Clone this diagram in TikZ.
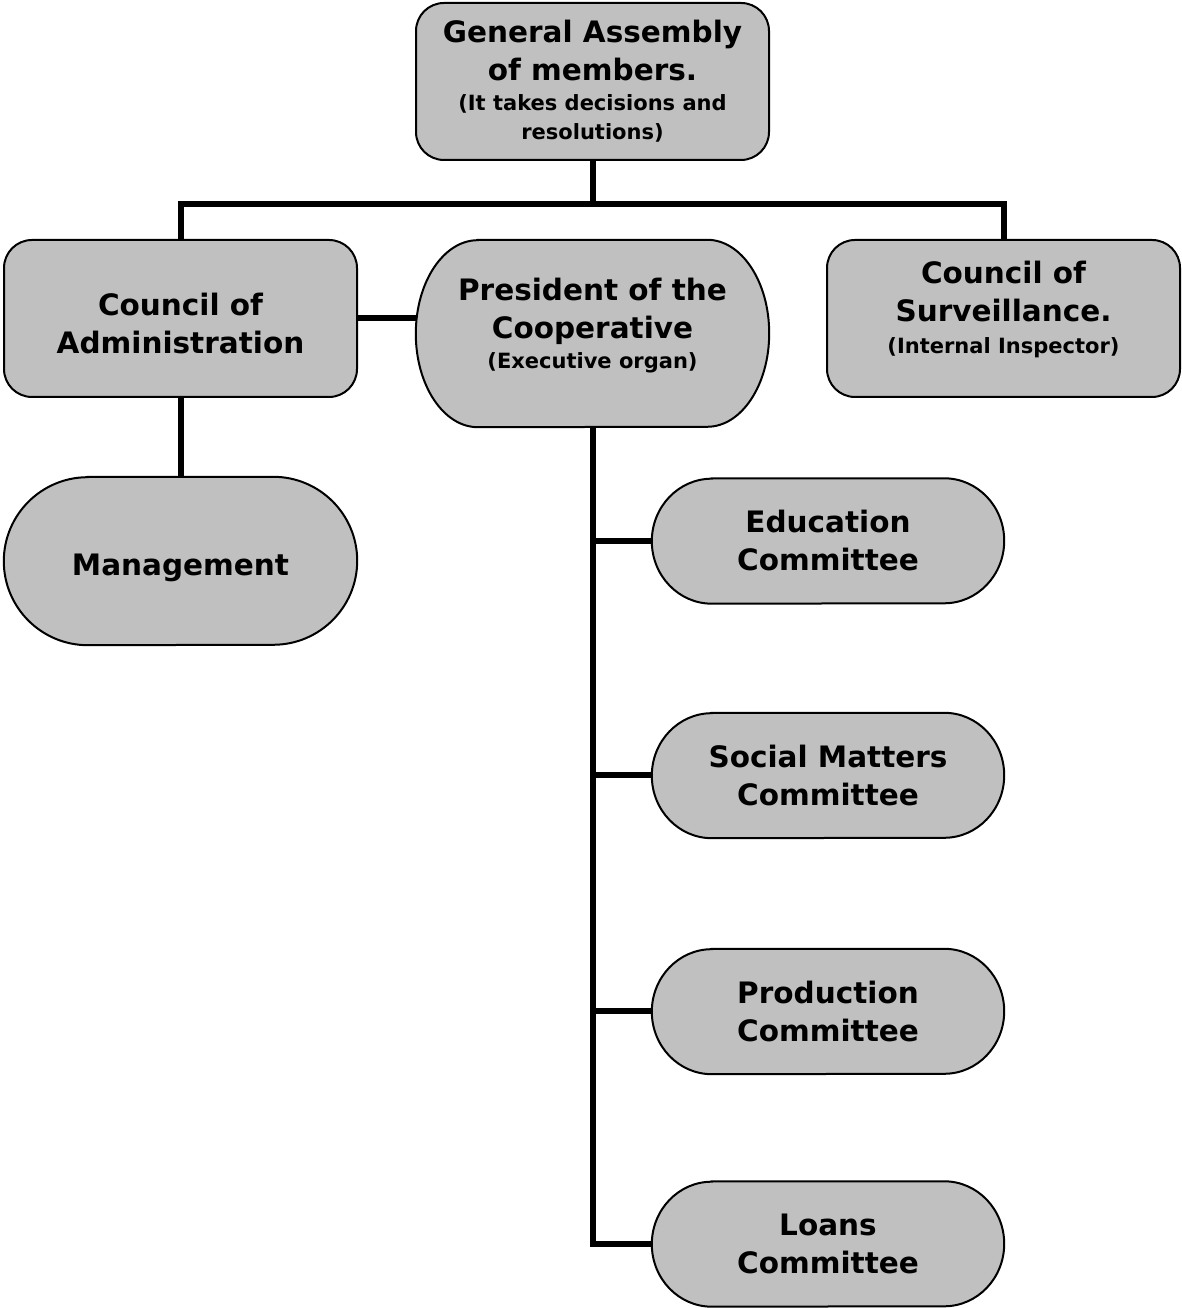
\documentclass[tikz,border=0pt]{standalone}
\usepackage{fontspec}
\setmainfont{DejaVu Sans}
\usetikzlibrary{backgrounds}

\definecolor{boxgray}{HTML}{C0C0C0}

\newcommand\bigtxt{\fontsize{29.5}{38}\selectfont\bfseries}
\newcommand\smallline[1]{{\fontsize{21}{26}\selectfont #1}}
% pill outline around a node: name, end x radius, end y radius
\newcommand\pillshape[3]{%
  \filldraw[pillline] ([xshift=#2pt]#1.north west) -- ([xshift=-#2pt]#1.north east)
    arc[start angle=90,end angle=-90,x radius=#2,y radius=#3]
    -- ([xshift=#2pt]#1.south west)
    arc[start angle=270,end angle=90,x radius=#2,y radius=#3] -- cycle;}

\tikzset{
  box/.style={draw, line width=2pt, fill=boxgray, rounded corners=28pt,
    minimum width=353pt, minimum height=157pt, inner sep=0pt,
    align=center, font=\bigtxt},
  pillnode/.style={minimum width=353pt, inner sep=0pt, align=center, font=\bigtxt},
  pillline/.style={draw=black, fill=boxgray, line width=2pt},
  link/.style={line width=6pt}
}

\begin{document}
\begin{tikzpicture}[x=1pt,y=1pt]
  \useasboundingbox (0,0) rectangle (1181,1308);

  \node[box] (gen) at (592.5,1226.5) {General Assembly\\of members.\\[-8pt]%
    \smallline{(It takes decisions and}\\[-9pt]\smallline{resolutions)}};

  \node[box, text height=70pt] (coa) at (180.5,989.5) {Council of\\Administration};
  \node[box, text depth=23pt] (cos) at (1003.5,989.5) {Council of\\Surveillance.\\[-6pt]%
    \smallline{(Internal Inspector)}};
  \node[pillnode, minimum height=187pt, text depth=21pt] (pres) at (592.5,974.5)
    {President of the\\Cooperative\\[-8pt]\smallline{(Executive organ)}};

  \node[pillnode, minimum height=168pt, text height=35pt] (mgmt) at (180.5,747) {Management};

  \foreach \nm/\yc/\txt in {edu/767/Education,soc/532.5/Social Matters,
      prod/296.5/Production,loans/64/Loans}
    \node[pillnode, minimum width=352pt, minimum height=125pt] (\nm) at (828,\yc)
      {\txt\\Committee};

  \begin{scope}[on background layer]
    \pillshape{pres}{62}{93.5}
    \pillshape{mgmt}{84}{84}
    \foreach \nm in {edu,soc,prod,loans} {\pillshape{\nm}{60}{62.5}}
  \end{scope}

  % lines
  \draw[link] (gen.south) -- ++(0,-43) coordinate (bus);
  \draw[link] (coa.north) |- (bus) -| (cos.north);
  \draw[link] (coa.east) -- (coa.east -| pres.west);
  \draw[link] (coa.south) -- (mgmt.north);
  \draw[link] (pres.south) |- (loans.west);
  \foreach \nm in {edu,soc,prod}
    \draw[link] (pres.south |- \nm.west) -- (\nm.west);
\end{tikzpicture}
\end{document}
